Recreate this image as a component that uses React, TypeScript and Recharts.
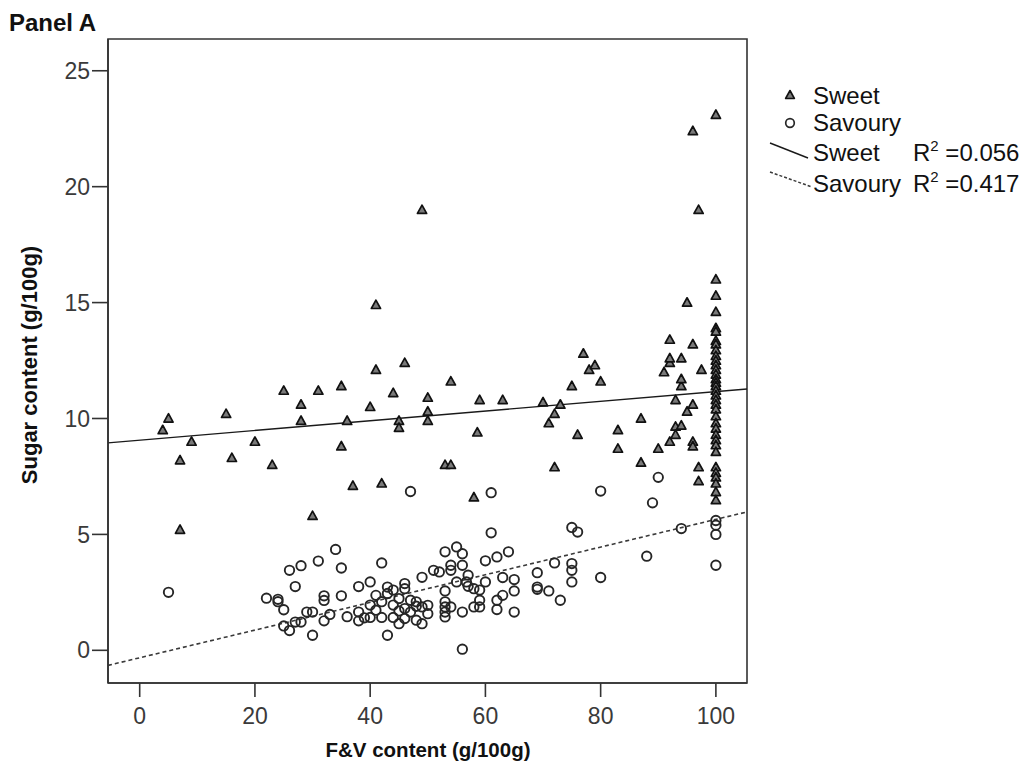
import React from "react";
import {
  ScatterChart,
  Scatter,
  XAxis,
  YAxis,
  ReferenceLine,
  ReferenceArea,
} from "recharts";

// F&V content (g/100g), Sugar content (g/100g)
const sweet: [number, number][] = [
  [4, 9.5], [5, 10.0], [7, 8.2], [7, 5.2], [9, 9.0], [15, 10.2], [16, 8.3], [20, 9.0],
  [23, 8.0], [25, 11.2], [28, 10.6], [28, 9.9], [30, 5.8], [31, 11.2], [35, 11.4], [35, 8.8],
  [36, 9.9], [37, 7.1], [40, 10.5], [41, 12.1], [41, 14.9], [42, 7.2], [44, 11.1], [45, 9.9],
  [45, 9.6], [46, 12.4], [49, 19.0], [50, 10.9], [50, 10.3], [50, 9.9], [53, 8.0], [54, 8.0],
  [54, 11.6], [58, 6.6], [58.6, 9.4], [59, 10.8], [63, 10.8], [70, 10.7], [71, 9.8], [72, 10.2],
  [72, 7.9], [73, 10.6], [75, 11.4], [76, 9.3], [77, 12.8], [78, 12.1], [79, 12.3], [80, 11.6],
  [83, 9.5], [83, 8.7], [87, 10.0], [87, 8.1], [90, 8.7], [91, 12.0], [92, 9.0], [92, 12.4],
  [92, 12.6], [92, 13.4], [93, 9.65], [93, 9.3], [93, 10.8], [94, 9.7], [94, 11.4], [94, 11.7],
  [94, 12.6], [95, 10.3], [95, 15.0], [96, 10.6], [96, 9.0], [96, 8.8], [96, 13.2], [96, 22.4],
  [97, 7.9], [97, 7.3], [97, 19.0], [97.5, 12.1],
  [100, 23.1], [100, 16.0], [100, 15.3], [100, 14.6], [100, 13.9], [100, 13.75], [100, 13.35],
  [100, 13.2], [100, 12.95], [100, 12.7], [100, 12.5], [100, 12.3], [100, 12.1], [100, 11.9],
  [100, 11.7], [100, 11.55], [100, 11.4], [100, 11.2], [100, 11.0], [100, 10.8], [100, 10.6],
  [100, 10.4], [100, 10.1], [100, 9.8], [100, 9.57], [100, 9.3], [100, 9.07], [100, 8.85],
  [100, 8.56], [100, 7.9], [100, 7.66], [100, 7.46], [100, 7.2], [100, 6.83], [100, 6.48],
];

const savoury: [number, number][] = [
  [5, 2.5], [22, 2.25], [24, 2.2], [24, 2.1], [25, 1.75], [25, 1.05], [26, 0.85], [26, 3.45],
  [27, 2.75], [27, 1.22], [28, 3.65], [28, 1.22], [29, 1.65], [30, 1.65], [30, 0.65], [31, 3.85],
  [32, 2.35], [32, 2.15], [32, 1.27], [33, 1.55], [34, 4.35], [35, 3.55], [35, 2.35], [36, 1.45],
  [38, 2.75], [38, 1.65], [38, 1.27], [39, 1.4], [40, 2.95], [40, 1.95], [40, 1.42], [41, 2.37],
  [41, 1.73], [42, 3.77], [42, 2.1], [42, 1.42], [43, 2.73], [43, 2.45], [43, 0.65], [44, 1.95],
  [44, 1.42], [44, 2.6], [45, 2.23], [45, 1.15], [45, 1.7], [46, 2.88], [46, 2.66], [46, 1.8],
  [46, 1.37], [47, 2.16], [47, 1.65], [47, 6.85], [48, 2.09], [48, 1.3], [48, 1.9], [49, 3.15],
  [49, 1.87], [49, 1.15], [50, 1.94], [50, 1.58], [51, 3.45], [52, 3.38], [53, 4.25], [53, 2.56],
  [53, 2.09], [53, 1.87], [53, 1.65], [53, 1.44], [54, 3.67], [54, 3.45], [54, 1.87], [55, 4.46],
  [55, 2.95], [56, 4.17], [56, 3.67], [56, 1.65], [56, 0.05], [56.7, 2.95], [57, 3.24], [57, 2.76],
  [58, 2.66], [58, 1.87], [59, 2.6], [59, 2.16], [59, 1.87], [60, 3.86], [60, 2.95], [61, 6.8],
  [61, 5.07], [62, 4.03], [62, 2.16], [62, 1.76], [63, 3.14], [63, 2.37], [64, 4.25], [65, 3.05],
  [65, 2.56], [65, 1.65], [69, 3.35], [69, 2.73], [69, 2.63], [71, 2.56], [72, 3.77], [73, 2.16],
  [75, 5.3], [75, 3.74], [75, 3.45], [75, 2.95], [76, 5.1], [80, 6.87], [80, 3.14], [88, 4.06],
  [89, 6.36], [90, 7.46], [94, 5.25], [100, 5.6], [100, 5.4], [100, 5.0], [100, 3.67],
];

// Fit lines (end points)
const sweetFit: [number, number][] = [[-5.5, 8.95], [105.4, 11.27]];
const savouryFit: [number, number][] = [[-5.5, -0.65], [105.4, 5.97]];

const xTicks = [0, 20, 40, 60, 80, 100];
const yTicks = [0, 5, 10, 15, 20, 25];
const xDomain: [number, number] = [-5.5, 105.4];
const yDomain: [number, number] = [-1.41, 26.37];

const legendLabels = ["Sweet", "Savoury", "Sweet", "Savoury"];
const r2Labels = ["0.056", "0.417"];

const FONT = "'Liberation Sans', Arial, sans-serif";

const toObj = (arr: [number, number][]) => arr.map(([x, y]) => ({ x, y }));

const Tri = (props: any) => {
  const { cx, cy } = props;
  if (cx == null || cy == null) return null;
  return (
    <polygon
      points={`${cx},${cy - 4.8} ${cx - 4.6},${cy + 3.6} ${cx + 4.6},${cy + 3.6}`}
      fill="#7a7a7a"
      stroke="#111"
      strokeWidth={1.7}
      strokeLinejoin="round"
    />
  );
};

const Circ = (props: any) => {
  const { cx, cy } = props;
  if (cx == null || cy == null) return null;
  return <circle cx={cx} cy={cy} r={4.7} fill="none" stroke="#262626" strokeWidth={1.9} />;
};

export default function App() {
  const W = 1011;
  const H = 768;
  return (
    <div style={{ position: "relative", width: W, height: H, fontFamily: FONT }}>
      <ScatterChart
        width={W}
        height={H}
        margin={{ top: 31, right: 272, bottom: 33, left: 30 }}
      >
        <XAxis
          type="number"
          dataKey="x"
          domain={xDomain}
          ticks={xTicks}
          allowDataOverflow
          height={60}
          tickSize={14}
          tickMargin={11}
          axisLine={{ stroke: "#333", strokeWidth: 1.6 }}
          tickLine={{ stroke: "#333", strokeWidth: 1.6 }}
          tick={{ fill: "#3a3a3a", fontSize: 23, fontFamily: FONT }}
        />
        <YAxis
          type="number"
          dataKey="y"
          domain={yDomain}
          ticks={yTicks}
          allowDataOverflow
          width={70}
          tickSize={16}
          tickMargin={2}
          axisLine={{ stroke: "#333", strokeWidth: 1.6 }}
          tickLine={{ stroke: "#333", strokeWidth: 1.6 }}
          tick={{ fill: "#3a3a3a", fontSize: 23, fontFamily: FONT }}
        />
        <ReferenceArea
          x1={xDomain[0]}
          x2={xDomain[1]}
          y1={yDomain[0]}
          y2={yDomain[1]}
          fill="none"
          fillOpacity={0}
          stroke="#333"
          strokeWidth={1.6}
          ifOverflow="visible"
        />
        <Scatter data={toObj(sweet)} shape={Tri} isAnimationActive={false} />
        <Scatter data={toObj(savoury)} shape={Circ} isAnimationActive={false} />
        <ReferenceLine
          segment={toObj(sweetFit)}
          stroke="#1a1a1a"
          strokeWidth={1.4}
          ifOverflow="visible"
        />
        <ReferenceLine
          segment={toObj(savouryFit)}
          stroke="#3a3a3a"
          strokeWidth={1.6}
          strokeDasharray="4 3"
          ifOverflow="visible"
        />
      </ScatterChart>
      <svg
        width={W}
        height={H}
        style={{ position: "absolute", left: 0, top: 0, pointerEvents: "none" }}
        fontFamily={FONT}
      >
        <text x={1} y={23} fontSize={24} fontWeight="bold" fill="#111">
          Panel A
        </text>
        <text
          x={420}
          y={749}
          fontSize={20.5}
          fontWeight="bold"
          fill="#111"
          textAnchor="middle"
        >
          F&amp;V content (g/100g)
        </text>
        <text
          transform="translate(29,357) rotate(-90)"
          fontSize={22}
          fontWeight="bold"
          fill="#111"
          textAnchor="middle"
        >
          Sugar content (g/100g)
        </text>
        {/* legend */}
        <polygon points="782,82.5 777.6,90.5 786.4,90.5" fill="#7a7a7a" stroke="#111" strokeWidth={1.6} strokeLinejoin="round" />
        <text x={805} y={96} fontSize={24} fill="#111">{legendLabels[0]}</text>
        <circle cx={782} cy={115} r={4.3} fill="none" stroke="#262626" strokeWidth={1.7} />
        <text x={805} y={123} fontSize={24} fill="#111">{legendLabels[1]}</text>
        <line x1={762} y1={135} x2={800} y2={150} stroke="#1a1a1a" strokeWidth={1.4} />
        <text x={805} y={153} fontSize={24} fill="#111">{legendLabels[2]}</text>
        <text x={905} y={153} fontSize={24} fill="#111">
          R<tspan fontSize={15} dy={-10}>2</tspan>
          <tspan dy={10}> =</tspan>
          {r2Labels[0]}
        </text>
        <line x1={762} y1={164} x2={804} y2={179} stroke="#3a3a3a" strokeWidth={1.5} strokeDasharray="3 2" />
        <text x={805} y={184} fontSize={24} fill="#111">{legendLabels[3]}</text>
        <text x={905} y={184} fontSize={24} fill="#111">
          R<tspan fontSize={15} dy={-10}>2</tspan>
          <tspan dy={10}> =</tspan>
          {r2Labels[1]}
        </text>
      </svg>
    </div>
  );
}
